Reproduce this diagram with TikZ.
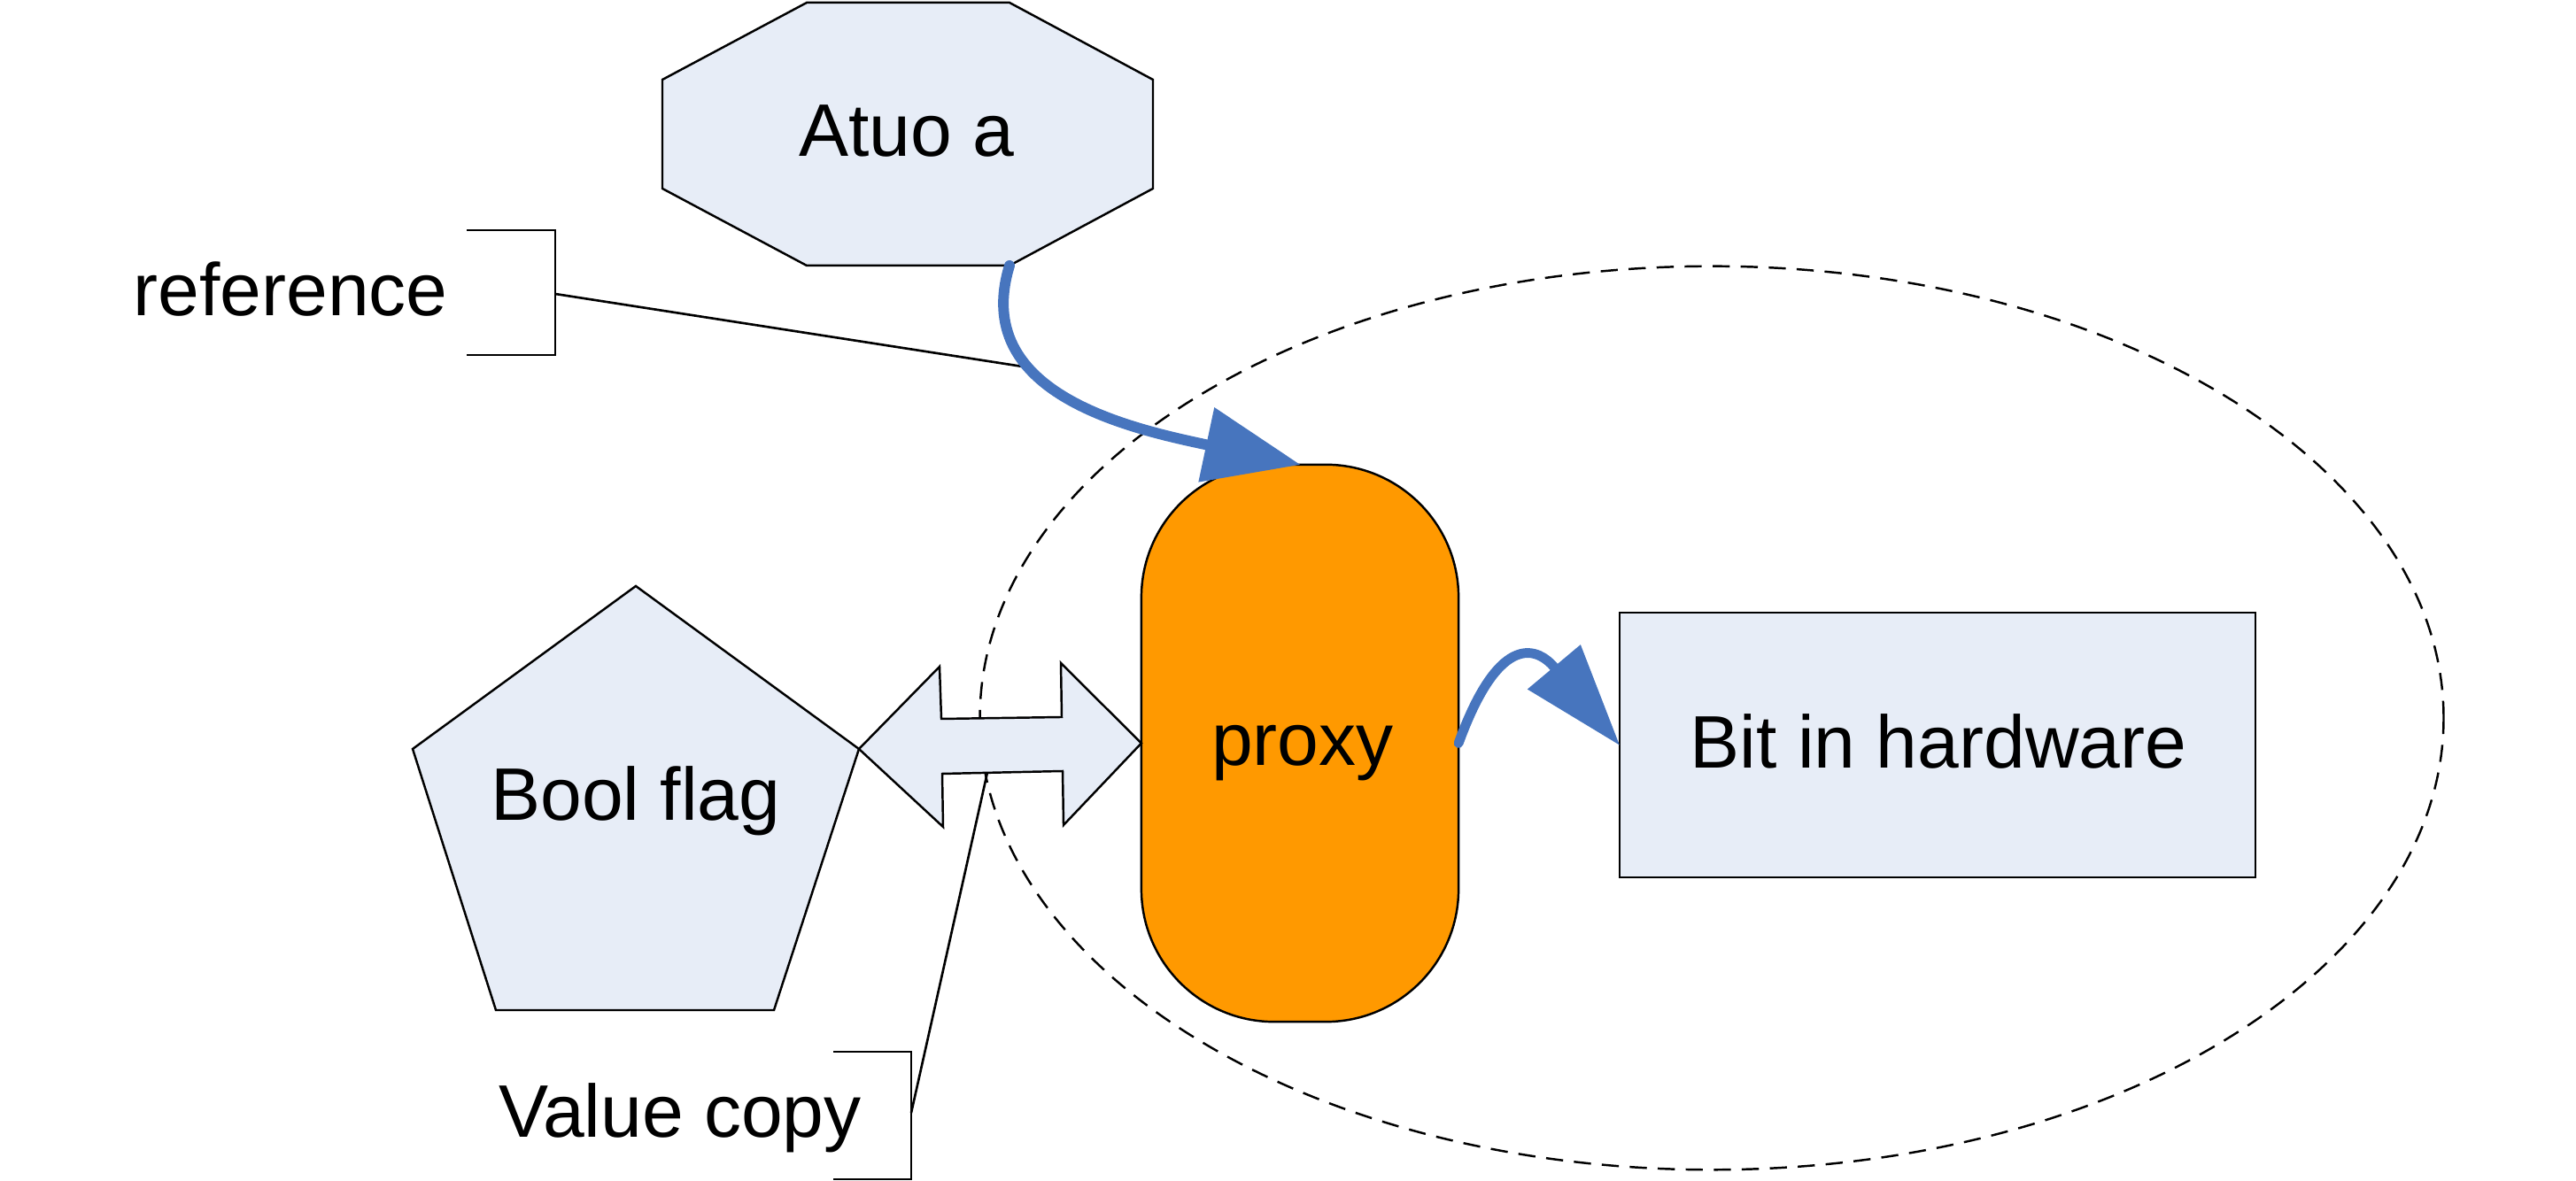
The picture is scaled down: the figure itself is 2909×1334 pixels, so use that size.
\documentclass[tikz,border=0pt]{standalone}
\usepackage{fontspec}
\setmainfont{Liberation Sans}
\usetikzlibrary{arrows.meta}
\definecolor{lightfill}{RGB}{231,237,247}
\definecolor{proxyorange}{RGB}{255,153,0}
\definecolor{arrowblue}{RGB}{71,117,190}
\begin{document}
\begin{tikzpicture}[x=0.01cm,y=0.01cm,
  shapeline/.style={draw=black, line width=0.7pt, fill=lightfill, line join=miter},
  lbl/.style={inner sep=0pt, outer sep=0pt, font=\fontsize{23.9}{28}\selectfont, anchor=base},
  callout/.style={draw=black, line width=0.75pt},
  bluearrow/.style={draw=arrowblue, line width=3.4pt, line cap=round},
  ellipseline/.style={draw=black, line width=0.7pt, dash pattern=on 5.5pt off 3.5pt},
  ]
\useasboundingbox (0,0) rectangle (2909,1334);

% dashed ellipse
\draw[ellipseline] (1933,523) ellipse [x radius=8.26cm, y radius=5.10cm];

% octagon "Atuo a"
\coordinate (oct1) at (911,1331);
\coordinate (oct2) at (1140,1331);
\coordinate (oct3) at (1302,1244);
\coordinate (oct4) at (1302,1121);
\coordinate (octBR) at (1140,1034);
\coordinate (oct6) at (911,1034);
\coordinate (oct7) at (748,1121);
\coordinate (oct8) at (748,1244);
\draw[shapeline] (oct1) -- (oct2) -- (oct3) -- (oct4) -- (octBR) -- (oct6) -- (oct7) -- (oct8) -- cycle;

% pentagon "Bool flag"
\coordinate (penT) at (718,672);
\coordinate (penR) at (970,488);
\coordinate (penBR) at (874,193);
\coordinate (penBL) at (560,193);
\coordinate (penL) at (466,488);
\draw[shapeline] (penT) -- (penR) -- (penBR) -- (penBL) -- (penL) -- cycle;

% proxy and hardware box
\node[draw=black, line width=0.7pt, fill=proxyorange, minimum width=3.58cm, minimum height=6.29cm,
      rounded corners=1.5cm, inner sep=0pt, outer sep=0pt] (proxy) at (1468,494.5) {};
\node[shapeline, minimum width=7.18cm, minimum height=2.99cm, inner sep=0pt, outer sep=0pt] (hw) at (2188,492.5) {};

% double arrow (value copy) from pentagon to proxy
\draw[shapeline] (penR) -- (1061,581) -- (1063,522) -- (1199,524) -- (1198,585) -- (proxy.west)
  -- (1201,402) -- (1200,463) -- (1064,460) -- (1065,400) -- cycle;
\coordinate (valend) at (1115,461.5);

% callouts
\coordinate (refbr) at (627,1002);
\coordinate (refend) at (1161,919);
\draw[callout] (527,1074) -- (627,1074) -- (627,933) -- (527,933);
\draw[callout] (refbr) -- (refend);
\coordinate (valbr) at (1029,77);
\draw[callout] (941,146) -- (1029,146) -- (1029,2) -- (941,2);
\draw[callout] (valbr) -- (valend);

% blue arrows
\draw[bluearrow, -{Triangle[length=1.08cm,width=0.86cm,line width=0.4pt]}]
  (octBR) .. controls +(-107:150) and +(168:200) .. (proxy.north);
\draw[bluearrow, line width=3.1pt, -{Triangle[length=1.15cm,width=0.78cm,line width=0.4pt]}]
  (proxy.east) .. controls +(70:140) and +(130:140) .. (hw.west);

% texts
\node[lbl] (atuo) at (1024,1157) {Atuo a};
\node[lbl] (proxytxt) at (1471,469) {proxy};
\node[lbl] (hwtxt) at (2189,466) {Bit in hardware};
\node[lbl] (booltxt) at (718,407) {Bool flag};
\node[lbl] (reftxt) at (328,977) {reference};
\node[lbl] (valtxt) at (768,49) {Value copy};
\end{tikzpicture}
\end{document}
